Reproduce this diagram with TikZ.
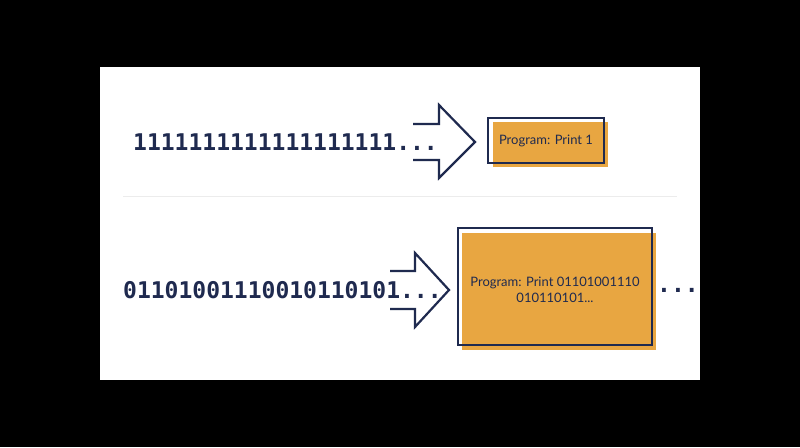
\documentclass[tikz,border=0pt]{standalone}
\usepackage{fontspec}
\setmainfont{Lato}
\newfontfamily\codefont{DejaVu Sans Mono}
\definecolor{navy}{HTML}{1F2A4F}
\definecolor{gold}{HTML}{E8A641}
\begin{document}
\begin{tikzpicture}[x=1pt,y=-1pt,
  arr/.style={draw=navy,line width=2.2pt,line join=miter},
  frame/.style={draw=navy,line width=2pt},
  shadow/.style={fill=gold},
  code/.style={text=navy,font=\codefont\bfseries\fontsize{23}{26}\selectfont,anchor=west,inner sep=0},
  lbl/.style={text=navy,font=\fontsize{13}{16}\selectfont,align=center}]
\fill[black] (0,0) rectangle (800,447);
\fill[white] (100,67) rectangle (700,380);
\draw[gray!15,line width=1pt] (123,196) -- (677,196);
% row 1
\node[code] (s1) at (133,142) {1111111111111111111...};
\draw[arr] (413,124) -- (439,124) -- (439,105) -- (475,142) -- (439,178) -- (439,160) -- (413,160);
\fill[shadow] (493,122) rectangle (608,167);
\draw[frame] (488,118) rectangle (604,163);
\node[lbl] (b1) at (546,141) {Program: Print 1};
% row 2
\node[code] (s2) at (123,290) {01101001110010110101...};
\draw[arr] (390,271) -- (415,271) -- (415,253) -- (449,290) -- (415,327) -- (415,309) -- (390,309);
\fill[shadow] (462,233) rectangle (656,350);
\draw[frame] (458,228) rectangle (652,345);
\node[lbl] (b2) at (555,290) {Program: Print 01101001110\\010110101...};
\node[code] (d) at (657,290) {...};
\end{tikzpicture}
\end{document}
